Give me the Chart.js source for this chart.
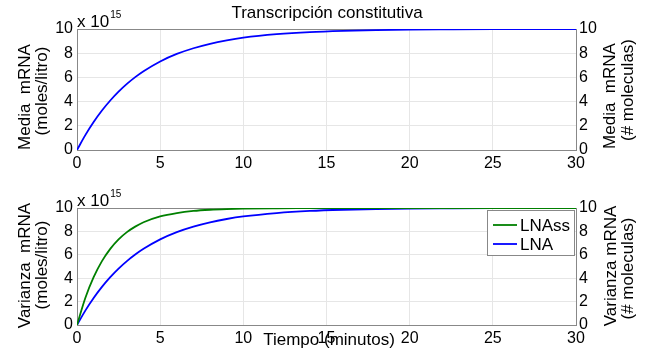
<!DOCTYPE html>
<html><head><meta charset="utf-8">
<script src="https://cdn.jsdelivr.net/npm/chart.js@4/dist/chart.umd.min.js"></script>
<style>
html,body{margin:0;padding:0;background:#fff;width:648px;height:361px;overflow:hidden}
canvas{position:absolute;left:0}
</style></head><body>
<canvas id="cTop" width="648" height="180" style="top:0"></canvas>
<canvas id="cBot" width="648" height="181" style="top:180px"></canvas>
<script>
// ---- data (values in units of 10^15) ----
const timeMin   = [0,0.5,1,1.5,2,2.5,3,3.5,4,5,6,7,8,9,10,12,14,16,18,20,22,25,28,30];
const meanMRNA  = [0,1.23,2.31,3.26,4.09,4.82,5.46,6.02,6.51,7.32,7.94,8.41,8.78,9.06,9.28,9.57,9.75,9.85,9.91,9.95,9.97,9.99,9.99,10];
const varLNAss  = [0,2.31,4.09,5.46,6.51,7.32,7.94,8.41,8.78,9.28,9.57,9.75,9.85,9.91,9.95,9.98,9.99,10,10,10,10,10,10,10];
const varLNA    = [0,1.23,2.31,3.26,4.09,4.82,5.46,6.02,6.51,7.32,7.94,8.41,8.78,9.06,9.28,9.57,9.75,9.85,9.91,9.95,9.97,9.99,9.99,10];
const xTicks = [0,5,10,15,20,25,30];
const yTicks = [0,2,4,6,8,10];
const seriesLabels = ['LNAss','LNA'];
const titleText = 'Transcripción constitutiva';
const xLabel = 'Tiempo (minutos)';

const FONT = '"Liberation Sans", Arial, Helvetica, sans-serif';
Chart.defaults.font.family = FONT;
Chart.defaults.font.size = 16;
Chart.defaults.color = '#000';

const pts = (xs, ys) => xs.map((x,i)=>({x, y: ys[i]}));

// rotated (-90deg) text: x = baseline position, y = centre along the text
function vtext(ctx, s, x, y){
  ctx.save(); ctx.translate(x,y); ctx.rotate(-Math.PI/2);
  ctx.textAlign='center'; ctx.textBaseline='alphabetic'; ctx.fillText(s,0,0); ctx.restore();
}
function expo(ctx, x, yBase){
  ctx.save(); ctx.fillStyle='#000'; ctx.textAlign='left'; ctx.textBaseline='alphabetic';
  ctx.font='17px '+FONT; ctx.fillText('x 10', x, yBase);
  const w = ctx.measureText('x 10').width;
  ctx.font='10px '+FONT; ctx.fillText('15', x+w+1, yBase-9);
  ctx.restore();
}

function makeOptions(xHeight, padTop){
  return {
    responsive:false, animation:false,
    layout:{padding:{top:padTop,left:0,right:0,bottom:0}},
    plugins:{legend:{display:false}, tooltip:{enabled:false}},
    scales:{
      x:{type:'linear', min:0, max:30,
        afterBuildTicks: s => { s.ticks = xTicks.map(v=>({value:v})); },
        afterFit: s => { s.height = xHeight; },
        grid:{color:'#e6e6e6', drawTicks:false},
        border:{display:true, color:'#888'},
        ticks:{padding:4, maxRotation:0, font:{size:16}}
      },
      y:{type:'linear', position:'left', min:0, max:10,
        afterBuildTicks: s => { s.ticks = yTicks.map(v=>({value:v})); },
        afterFit: s => { s.width = 77; },
        grid:{color:'#e6e6e6', drawTicks:false},
        border:{display:true, color:'#888'},
        ticks:{padding:4, font:{size:16}}
      },
      y2:{type:'linear', position:'right', min:0, max:10,
        afterBuildTicks: s => { s.ticks = yTicks.map(v=>({value:v})); },
        afterFit: s => { s.width = 72; },
        grid:{display:false, drawTicks:false},
        border:{display:true, color:'#888'},
        ticks:{padding:3, font:{size:16}}
      }
    }
  };
}

const boxTop = {id:'boxTop', beforeDatasetsDraw(chart){
  const {ctx, chartArea:a} = chart; ctx.save(); ctx.strokeStyle='#888'; ctx.lineWidth=1;
  ctx.beginPath(); ctx.moveTo(a.left, a.top+0.5); ctx.lineTo(a.right, a.top+0.5); ctx.stroke(); ctx.restore();
}};

const topText = {id:'topText', afterDraw(chart){
  const ctx = chart.ctx; ctx.save(); ctx.fillStyle='#000';
  ctx.font='17px '+FONT; ctx.textAlign='center'; ctx.textBaseline='alphabetic';
  ctx.fillText(titleText, 327, 18);
  vtext(ctx,'Media  mRNA', 30, 97);
  vtext(ctx,'(moles/litro)', 47, 91);
  vtext(ctx,'Media  mRNA', 615, 96);
  vtext(ctx,'(# moleculas)', 633, 90);
  ctx.restore();
  expo(ctx, 77, 27);
}};

const botText = {id:'botText', afterDraw(chart){
  const ctx = chart.ctx; ctx.save(); ctx.fillStyle='#000';
  ctx.font='17px '+FONT;
  vtext(ctx,'Varianza  mRNA', 30, 85.5);
  vtext(ctx,'(moles/litro)', 47, 85);
  vtext(ctx,'Varianza mRNA', 616, 86);
  vtext(ctx,'(# moleculas)', 633, 88.5);
  ctx.textAlign='center'; ctx.textBaseline='alphabetic';
  ctx.fillText(xLabel, 329, 165);
  // legend
  const x0=487, y0=30, x1=575, y1=76;
  ctx.fillStyle='#fff'; ctx.fillRect(x0,y0,x1-x0,y1-y0);
  ctx.strokeStyle='#888'; ctx.lineWidth=1; ctx.strokeRect(x0+0.5,y0+0.5,x1-x0-1,y1-y0-1);
  const rows=[45,64];
  chart.data.datasets.forEach((ds,i)=>{
    ctx.strokeStyle=ds.borderColor; ctx.lineWidth=1.8;
    ctx.beginPath(); ctx.moveTo(493,rows[i]); ctx.lineTo(517,rows[i]); ctx.stroke();
    ctx.fillStyle='#000'; ctx.textAlign='left'; ctx.textBaseline='middle';
    ctx.fillText(ds.label, 520, rows[i]+1);
  });
  ctx.restore();
  expo(ctx, 77, 26);
}};

const lineDs = (label, data, color) => ({label, data, borderColor:color, backgroundColor:color,
  borderWidth:1.8, pointRadius:0, fill:false, cubicInterpolationMode:'monotone', yAxisID:'y'});

new Chart(document.getElementById('cTop'), {
  type:'line',
  data:{datasets:[lineDs('Media', pts(timeMin, meanMRNA), '#0000ff')]},
  options: makeOptions(30, 29),
  plugins:[boxTop, topText]
});

new Chart(document.getElementById('cBot'), {
  type:'line',
  data:{datasets:[
    lineDs(seriesLabels[0], pts(timeMin, varLNAss), '#008000'),
    lineDs(seriesLabels[1], pts(timeMin, varLNA), '#0000ff')
  ]},
  options: makeOptions(36, 28),
  plugins:[boxTop, botText]
});
</script>
</body></html>
